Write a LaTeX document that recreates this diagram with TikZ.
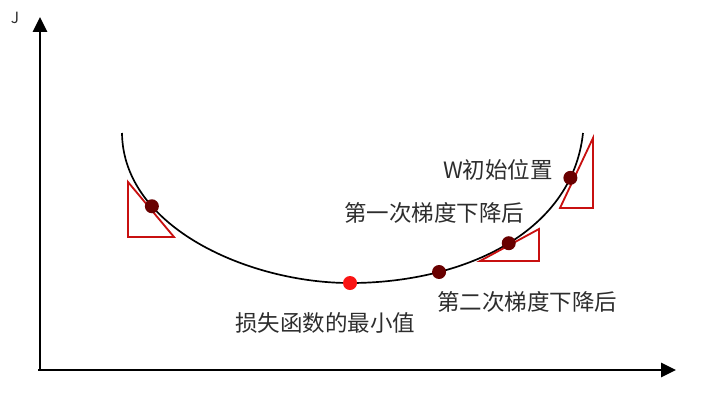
\documentclass[tikz,border=0pt]{standalone}
\usepackage{fontspec}
\newfontfamily\cjk{Noto Sans CJK SC}
\usetikzlibrary{arrows.meta}
\definecolor{dotred}{RGB}{105,0,0}
\definecolor{minred}{RGB}{250,20,20}
\definecolor{slopered}{RGB}{200,16,16}
\definecolor{textgray}{RGB}{45,45,45}
\begin{document}
\begin{tikzpicture}
  [x=0.025cm, y=-0.025cm,
  axis/.style={line width=1.6pt, -{Triangle[length=10.5pt,width=10pt]}},
  curve/.style={line width=1.2pt},
  slope/.style={draw=slopered, line width=1.3pt},
  dot/.style={circle, fill=dotred, inner sep=0pt, minimum size=0.35cm},
  txt/.style={font=\cjk\fontsize{16}{19}\selectfont, text=textgray, inner sep=0pt}]
\useasboundingbox (0,0) rectangle (714,403);
% axes
\coordinate (o) at (38,370);
\coordinate (ytip) at (40,17);
\coordinate (xtip) at (676,370);
\draw[axis] (o -| ytip) -- (ytip);
\draw[axis] (o) -- (xtip);
\node[font=\cjk\fontsize{11}{13}\selectfont, text=textgray] (J) at (15,18) {J};
% loss curve
\draw[curve] (122,133) .. controls (123,228) and (250,283) .. (350,283)
  coordinate[pos=0.295] (wl) coordinate (wmin)
  .. controls (460,283) and (572,235) .. (583,133)
  coordinate[pos=0.275] (w2) coordinate[pos=0.52] (w1) coordinate[pos=0.84] (w0);
% gradient triangles
\draw[slope] (128,182) -- (128,237) -- (174,237) -- cycle;
\draw[slope] (480,261) -- (539,229) -- (539,261) -- cycle;
\draw[slope] (593,138) -- (560,208) -- (593,208) -- cycle;
% points
\node[dot] (left) at (wl) {};
\node[dot, fill=minred] (min) at (wmin) {};
\node[dot] (second) at (w2) {};
\node[dot] (first) at (w1) {};
\node[dot] (init) at (w0) {};
% labels
\node[txt] (initlabel) at (498,170) {W初始位置};
\node[txt] (firstlabel) at (434,213) {第一次梯度下降后};
\node[txt] (secondlabel) at (527,302) {第二次梯度下降后};
\node[txt] (minlabel) at (325,323) {损失函数的最小值};
\end{tikzpicture}
\end{document}
